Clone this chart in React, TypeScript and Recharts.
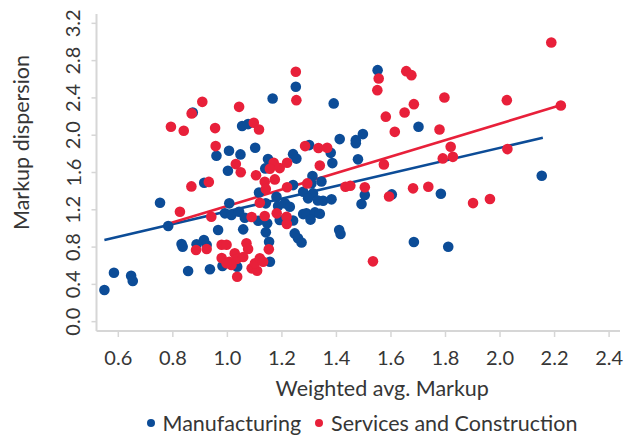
import React from 'react';
import { ScatterChart, Scatter, XAxis, YAxis, ReferenceLine, Legend } from 'recharts';

// [weighted avg. markup, markup dispersion]
const manufacturingPoints = [
  [0.549, 0.34], [0.584, 0.525], [0.647, 0.493], [0.653, 0.436], [0.753, 1.275],
  [0.783, 1.026], [0.832, 0.833], [0.836, 0.804], [0.856, 0.543], [0.936, 0.562],
  [0.887, 0.83], [0.914, 0.876], [0.924, 0.822], [0.915, 1.49], [0.873, 2.244],
  [0.966, 0.983], [0.982, 0.597], [1.007, 1.269], [0.991, 1.162], [1.015, 1.144],
  [1.043, 1.179], [1.064, 1.115], [1.058, 0.99], [1.036, 0.59], [1.113, 1.083],
  [1.146, 1.055], [1.141, 0.958], [1.153, 0.857], [1.156, 0.643], [1.141, 1.269],
  [1.116, 1.385], [1.186, 1.24], [1.211, 1.269], [1.18, 1.34], [1.192, 1.09],
  [1.241, 1.085], [1.247, 0.947], [1.259, 0.894], [1.272, 0.849], [1.278, 1.154],
  [1.229, 1.233], [1.241, 1.465], [1.278, 1.393], [1.312, 1.562], [1.345, 1.503],
  [1.308, 1.483], [1.314, 1.376], [1.296, 1.323], [1.351, 1.297], [1.382, 1.312],
  [1.332, 1.299], [1.29, 1.162], [1.321, 1.172], [1.339, 1.157], [1.305, 1.095],
  [1.41, 0.983], [1.415, 0.94], [1.492, 1.262], [1.504, 1.358], [1.603, 1.365],
  [1.783, 1.372], [1.684, 0.854], [1.81, 0.804], [2.153, 1.565], [1.3, 1.894],
  [1.379, 1.811], [1.385, 1.701], [1.479, 1.741], [1.412, 1.958], [1.471, 1.947],
  [1.471, 1.915], [1.497, 2.012], [1.39, 2.341], [1.551, 2.698], [1.701, 2.09],
  [1.166, 2.394], [1.251, 2.519], [1.054, 2.098], [1.076, 2.119], [1.102, 1.865],
  [1.006, 1.833], [1.048, 1.794], [0.96, 1.779], [1.002, 1.618], [1.241, 1.797],
  [1.253, 1.749], [1.149, 1.744], [1.139, 1.644],
];

const servicesPoints = [
  [0.826, 1.179], [0.793, 2.09], [0.84, 2.047], [0.869, 2.234], [0.908, 2.358],
  [0.955, 2.076], [0.957, 1.883], [1.043, 2.304], [1.097, 2.133], [1.116, 2.062],
  [1.031, 1.69], [1.049, 1.602], [1.105, 1.57], [0.868, 1.451], [0.932, 1.499],
  [1.17, 1.704], [1.156, 1.64], [1.192, 1.647], [1.219, 1.704], [1.137, 1.501],
  [1.174, 1.526], [1.141, 1.422], [1.219, 1.441], [1.293, 1.483], [1.119, 1.275],
  [1.251, 2.68], [1.253, 2.376], [1.285, 1.883], [1.334, 1.862], [1.366, 1.865],
  [1.339, 1.674], [1.433, 1.447], [1.451, 1.458], [1.504, 1.441], [1.593, 1.342],
  [1.681, 1.43], [1.737, 1.447], [1.901, 1.272], [1.963, 1.315], [1.534, 0.647],
  [1.574, 1.687], [1.581, 2.199], [1.614, 2.036], [1.65, 2.244], [1.684, 2.333],
  [1.656, 2.687], [1.675, 2.644], [1.555, 2.609], [1.55, 2.483], [1.796, 2.405],
  [2.025, 2.376], [2.223, 2.319], [2.188, 2.995], [1.778, 2.062], [1.819, 1.876],
  [1.79, 1.751], [1.827, 1.768], [2.027, 1.851], [0.941, 1.125], [1.089, 1.122],
  [1.137, 1.133], [1.181, 1.162], [1.217, 1.125], [1.218, 1.047], [0.885, 0.768],
  [0.924, 0.779], [0.979, 0.825], [0.997, 0.825], [1.07, 0.84], [1.076, 0.779],
  [1.152, 0.776], [0.979, 0.683], [1.007, 0.643], [1.027, 0.733], [1.034, 0.672],
  [1.058, 0.693], [1.015, 0.608], [0.997, 0.626], [1.036, 0.482], [1.089, 0.572],
  [1.109, 0.547], [1.101, 0.626], [1.119, 0.68], [1.131, 0.643],
];

// fitted lines, start and end points
const manufacturingTrend = [[0.549, 0.876], [2.157, 1.972]];
const servicesTrend = [[0.789, 1.055], [2.224, 2.323]];

const xTicks = [0.6, 0.8, 1.0, 1.2, 1.4, 1.6, 1.8, 2.0, 2.2, 2.4];
const yTicks = [0, 0.4, 0.8, 1.2, 1.6, 2.0, 2.4, 2.8, 3.2];

const BLUE = '#0C4C97';
const RED = '#E8203A';
const TEXT = '#363636';
const AXIS = '#d6d6d6';
const LABEL_SIZE = 21.5;

const toObjs = (pts: number[][]) => pts.map(([x, y]) => ({ x, y }));

const XTick = ({ x, y, payload }: any) => (
  <text x={x} y={y + 26} textAnchor="middle" fill={TEXT} fontSize={20}>
    {payload.value.toFixed(1)}
  </text>
);

const YTick = ({ x, y, payload }: any) => {
  const cx = x - 17;
  return (
    <text
      x={cx}
      y={y}
      transform={`rotate(-90 ${cx} ${y})`}
      textAnchor="middle"
      dominantBaseline="central"
      fill={TEXT}
      fontSize={20}
    >
      {payload.value.toFixed(1)}
    </text>
  );
};

const renderLegend = () => (
  <div style={{ display: 'flex', justifyContent: 'center', alignItems: 'center', fontSize: LABEL_SIZE, lineHeight: '24px', color: TEXT }}>
    <span style={{ display: 'inline-block', width: 8, height: 8, borderRadius: 4, background: BLUE, marginRight: 8 }} />
    <span style={{ marginRight: 14 }}>Manufacturing</span>
    <span style={{ display: 'inline-block', width: 8, height: 8, borderRadius: 4, background: RED, marginRight: 8 }} />
    <span>Services and Construction</span>
  </div>
);

const dot = (color: string) => (p: any) => <circle cx={p.cx} cy={p.cy} r={5.3} fill={color} />;

export default function App() {
  return (
    <div style={{ position: 'absolute', left: 0, top: 0, width: 634, height: 441, background: '#fff', fontFamily: 'Lato, sans-serif' }}>
      <ScatterChart width={634} height={441} margin={{ top: 14, right: 14, bottom: 70, left: 0 }}>
        <XAxis
          type="number"
          dataKey="x"
          domain={[0.52, 2.44]}
          ticks={xTicks}
          allowDataOverflow
          height={40}
          tickSize={6}
          axisLine={{ stroke: AXIS, strokeWidth: 2 }}
          tickLine={{ stroke: AXIS, strokeWidth: 1.5 }}
          tick={<XTick />}
          label={(props: any) => {
            const vb = props.viewBox;
            return (
              <text x={vb.x + vb.width / 2 + 24} y={396} textAnchor="middle" fill={TEXT} fontSize={LABEL_SIZE}>
                Weighted avg. Markup
              </text>
            );
          }}
        />
        <YAxis
          type="number"
          dataKey="y"
          domain={[-0.1, 3.3]}
          ticks={yTicks}
          allowDataOverflow
          width={96.5}
          tickSize={5}
          axisLine={{ stroke: AXIS, strokeWidth: 2 }}
          tickLine={{ stroke: AXIS, strokeWidth: 1.5 }}
          tick={<YTick />}
          label={(props: any) => {
            const vb = props.viewBox;
            const cy = vb.y + vb.height / 2 - 30;
            return (
              <text x={21} y={cy} transform={`rotate(-90 21 ${cy})`} textAnchor="middle" dominantBaseline="central" fill={TEXT} fontSize={LABEL_SIZE}>
                Markup dispersion
              </text>
            );
          }}
        />
        <Scatter name="Manufacturing" data={toObjs(manufacturingPoints)} fill={BLUE} shape={dot(BLUE)} isAnimationActive={false} />
        <Scatter name="Services and Construction" data={toObjs(servicesPoints)} fill={RED} shape={dot(RED)} isAnimationActive={false} />
        <ReferenceLine
          segment={manufacturingTrend.map(([x, y]) => ({ x, y }))}
          stroke={BLUE}
          strokeWidth={2.6}
        />
        <ReferenceLine
          segment={servicesTrend.map(([x, y]) => ({ x, y }))}
          stroke={RED}
          strokeWidth={2.6}
        />
        <Legend
          verticalAlign="middle"
          align="center"
          content={renderLegend}
          wrapperStyle={{ top: 411, left: 45, width: 634 }}
        />
      </ScatterChart>
    </div>
  );
}
